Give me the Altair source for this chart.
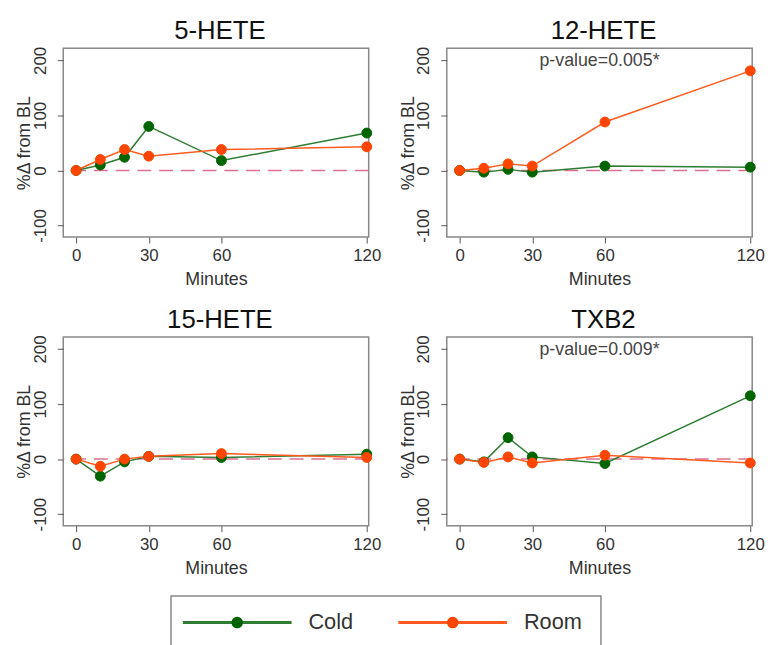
import altair as alt
import pandas as pd

minutes = [0, 10, 20, 30, 60, 120]
analytes = ["5-HETE", "12-HETE", "15-HETE", "TXB2"]
groups = ["Cold", "Room"]

cold_5hete = [0, 10, 24, 80, 18, 68]
room_5hete = [0, 20, 38, 26, 38, 43]
cold_12hete = [0, -3, 2, -3, 8, 6]
room_12hete = [0, 4, 12, 8, 88, 181]
cold_15hete = [0, -31, -5, 5, 3, 9]
room_15hete = [0, -13, 0, 5, 10, 3]
cold_txb2 = [0, -5, 39, 4, -8, 115]
room_txb2 = [0, -6, 4, -7, 7, -7]

pvalues = {"12-HETE": "p-value=0.005*", "TXB2": "p-value=0.009*"}

series = {
    ("5-HETE", "Cold"): cold_5hete, ("5-HETE", "Room"): room_5hete,
    ("12-HETE", "Cold"): cold_12hete, ("12-HETE", "Room"): room_12hete,
    ("15-HETE", "Cold"): cold_15hete, ("15-HETE", "Room"): room_15hete,
    ("TXB2", "Cold"): cold_txb2, ("TXB2", "Room"): room_txb2,
}
rows = []
for (a, g), vals in series.items():
    for m, v in zip(minutes, vals):
        rows.append({"analyte": a, "group": g, "minutes": m, "pct": v})
df = pd.DataFrame(rows)

FONT = "Liberation Sans"
W, H = 309, 191
colors = ["#006400", "#FF4500"]
line_colors = ["#2E7D32", "#FF5A1F"]

xscale = alt.Scale(domain=[-5.3, 120.8], nice=False, zero=False)
yscale = alt.Scale(domain=[-121, 222], nice=False, zero=False)

xaxis = alt.Axis(values=[0, 30, 60, 120], title="Minutes", grid=False,
                 domain=False, tickSize=6, tickColor="#555", labelFontSize=17,
                 labelColor="#333", titleFontSize=18, titleColor="#333",
                 titleFontWeight="normal", labelPadding=5, titlePadding=7,
                 labelFont=FONT, titleFont=FONT, labelFlush=False)
yaxis = alt.Axis(values=[-100, 0, 100, 200], title="%Δ from BL", grid=False,
                 domain=False, tickSize=6, tickColor="#555", labelFontSize=17,
                 labelColor="#333", labelAngle=270, labelAlign="center",
                 labelBaseline="bottom", titleFontSize=18, titleColor="#333",
                 titleFontWeight="normal", labelPadding=8, titlePadding=-2,
                 labelFont=FONT, titleFont=FONT, labelExpr="'' + datum.value")

pt_scale = alt.Scale(domain=groups, range=colors)


def panel(name):
    d = df[df["analyte"] == name]
    base = alt.Chart(d)
    zero = alt.Chart(pd.DataFrame({"y": [0]})).mark_rule(
        color="#DB7093", strokeDash=[14, 8], strokeWidth=1.5
    ).encode(y=alt.Y("y:Q", scale=yscale, axis=yaxis))
    lines = base.mark_line(strokeWidth=1.5).encode(
        x=alt.X("minutes:Q", scale=xscale, axis=xaxis),
        y=alt.Y("pct:Q", scale=yscale, axis=yaxis),
        color=alt.Color("group:N", scale=alt.Scale(domain=groups, range=line_colors), legend=None),
        detail="group:N",
    )
    pts = base.mark_point(filled=True, size=100, opacity=1, strokeWidth=1).encode(
        x=alt.X("minutes:Q", scale=xscale, axis=xaxis),
        y=alt.Y("pct:Q", scale=yscale, axis=yaxis),
        fill=alt.Fill("group:N", scale=pt_scale, legend=None),
        stroke=alt.Stroke("group:N", scale=pt_scale, legend=None),
        order=alt.Order("group:N"),
    )
    layers = [zero, lines, pts]
    if name in pvalues:
        txt = alt.Chart(pd.DataFrame({"t": [pvalues[name]]})).mark_text(
            fontSize=18, font=FONT, color="#444", baseline="middle"
        ).encode(text="t:N", x=alt.value(W / 2), y=alt.value(13))
        layers.append(txt)
    return alt.layer(*layers).properties(
        width=W, height=H,
        title=alt.TitleParams(name, fontSize=26, font=FONT, fontWeight="normal",
                              color="#111", offset=2, dx=4),
    )


# legend drawn as its own small chart from the group names
leg_df = pd.DataFrame({"group": groups})
leg_x = alt.X("group:N", scale=alt.Scale(type="point", domain=groups, range=[67, 285], padding=0),
              axis=None)
leg_base = alt.Chart(leg_df)
leg_line = leg_base.mark_tick(orient="horizontal", size=110, thickness=3, opacity=1).encode(
    x=leg_x, color=alt.Color("group:N", scale=pt_scale, legend=None))
leg_pt = leg_base.mark_point(filled=True, size=135, opacity=1).encode(
    x=leg_x, fill=alt.Fill("group:N", scale=pt_scale, legend=None))
leg_txt = leg_base.mark_text(align="left", baseline="middle", dx=72, fontSize=22,
                             font=FONT, color="#333").encode(x=leg_x, text="group:N")
legend_chart = alt.layer(leg_line, leg_pt, leg_txt).properties(width=435, height=54)
spacer = leg_base.mark_point(opacity=0).properties(
    width=98, height=54, view=alt.ViewBackground(strokeOpacity=0))
legend_row = alt.hconcat(spacer, legend_chart, spacing=10)

p = [panel(a) for a in analytes]
row1 = alt.hconcat(p[0], p[1], spacing=17)
row2 = alt.hconcat(p[2], p[3], spacing=17)
grid = alt.vconcat(row1, row2, spacing=17)
chart = alt.vconcat(grid, legend_row, spacing=17).resolve_scale(
    fill="shared", stroke="shared"
).properties(
    padding={"left": 15, "top": 14, "right": 5, "bottom": 5},
    background="white",
).configure_view(
    stroke="#888", strokeWidth=1.5
)

chart.save("out.html", embed_options={"renderer": "svg", "actions": False})
